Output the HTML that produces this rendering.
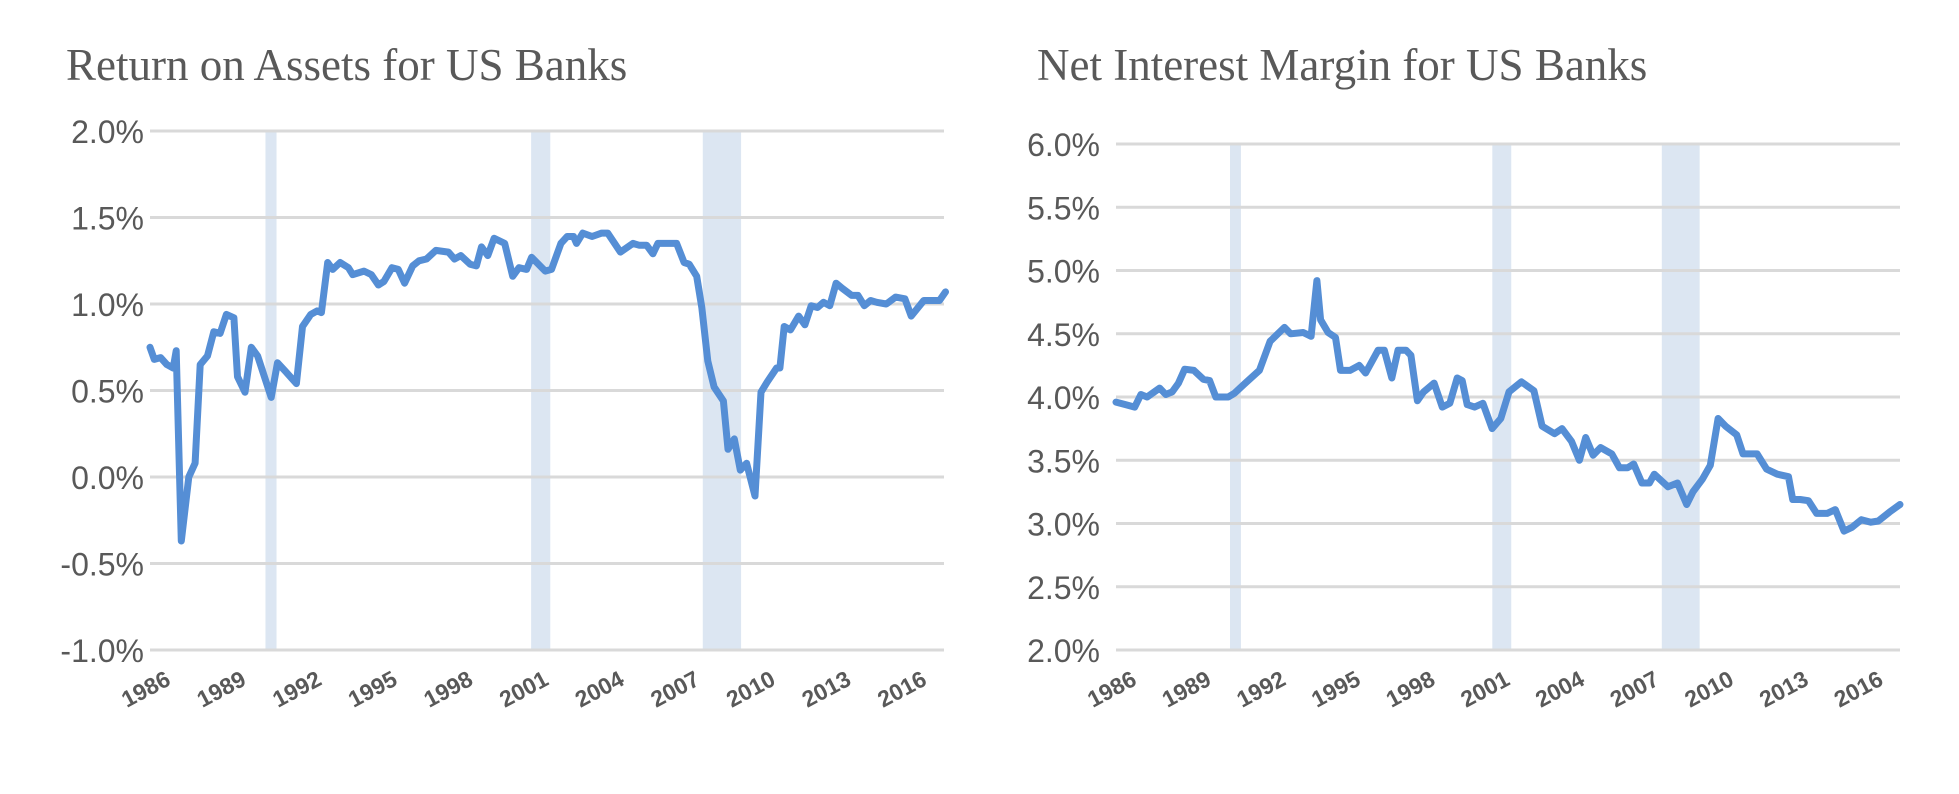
<!DOCTYPE html>
<html><head><meta charset="utf-8"><style>
html,body{margin:0;padding:0;background:#fff;}
svg{display:block;}
</style></head><body>
<svg id="chart" width="1959" height="794" xmlns="http://www.w3.org/2000/svg">
<rect x="0" y="0" width="1959" height="794" fill="#fff"/>
</svg>
<script>
const roaDates=[1986.00,1986.17,1986.42,1986.67,1986.92,1987.04,1987.24,1987.54,1987.79,1987.99,1988.28,1988.53,1988.78,1989.03,1989.33,1989.47,1989.77,1990.02,1990.27,1990.81,1991.06,1991.38,1991.81,1992.05,1992.38,1992.63,1992.80,1993.05,1993.25,1993.54,1993.87,1994.04,1994.49,1994.78,1995.06,1995.28,1995.60,1995.85,1996.10,1996.42,1996.67,1996.97,1997.34,1997.84,1998.08,1998.33,1998.70,1998.95,1999.15,1999.40,1999.65,2000.07,2000.39,2000.64,2000.94,2001.14,2001.68,2001.93,2002.30,2002.55,2002.80,2002.92,2003.17,2003.54,2003.92,2004.16,2004.66,2005.16,2005.40,2005.70,2005.95,2006.15,2006.89,2007.19,2007.39,2007.69,2007.89,2008.13,2008.38,2008.75,2008.93,2009.18,2009.42,2009.67,2010.00,2010.24,2010.49,2010.86,2010.99,2011.16,2011.41,2011.73,2011.98,2012.23,2012.48,2012.72,2012.97,2013.22,2013.47,2013.84,2014.09,2014.34,2014.59,2014.83,2015.21,2015.58,2015.95,2016.20,2016.70,2017.32,2017.56];
const roaValues=[0.75,0.68,0.69,0.65,0.63,0.73,-0.37,0.0,0.08,0.65,0.70,0.84,0.83,0.94,0.92,0.58,0.49,0.75,0.70,0.46,0.66,0.61,0.54,0.87,0.94,0.96,0.95,1.24,1.20,1.24,1.21,1.17,1.19,1.17,1.11,1.13,1.21,1.20,1.12,1.22,1.25,1.26,1.31,1.30,1.26,1.28,1.23,1.22,1.33,1.28,1.38,1.35,1.16,1.21,1.20,1.27,1.19,1.20,1.35,1.39,1.39,1.35,1.41,1.39,1.41,1.41,1.30,1.35,1.34,1.34,1.29,1.35,1.35,1.24,1.23,1.16,0.98,0.67,0.52,0.44,0.16,0.22,0.04,0.08,-0.11,0.49,0.55,0.63,0.63,0.87,0.85,0.93,0.88,0.99,0.98,1.01,0.99,1.12,1.09,1.05,1.05,0.99,1.02,1.01,1.00,1.04,1.03,0.93,1.02,1.02,1.07];
const nimDates=[1986.00,1986.38,1986.75,1987.00,1987.25,1987.75,1988.00,1988.26,1988.51,1988.76,1989.13,1989.51,1989.76,1990.01,1990.51,1990.76,1991.14,1991.76,1992.19,1992.77,1993.02,1993.52,1993.84,1994.07,1994.22,1994.52,1994.82,1995.02,1995.40,1995.77,1996.03,1996.53,1996.78,1997.08,1997.33,1997.65,1997.85,1998.11,1998.36,1998.78,1999.11,1999.41,1999.71,1999.91,2000.11,2000.41,2000.74,2001.11,2001.46,2001.79,2002.29,2002.79,2003.12,2003.62,2003.92,2004.30,2004.62,2004.87,2005.17,2005.47,2005.92,2006.23,2006.55,2006.80,2007.13,2007.43,2007.63,2008.18,2008.56,2008.93,2009.18,2009.56,2009.88,2010.19,2010.49,2010.94,2011.19,2011.44,2011.76,2012.14,2012.57,2013.02,2013.19,2013.49,2013.82,2014.15,2014.57,2014.90,2015.25,2015.57,2015.95,2016.33,2016.63,2017.08,2017.50];
const nimValues=[3.96,3.94,3.92,4.02,4.00,4.07,4.02,4.04,4.11,4.22,4.21,4.14,4.13,4.00,4.00,4.03,4.10,4.21,4.44,4.55,4.50,4.51,4.48,4.92,4.61,4.51,4.47,4.21,4.21,4.25,4.19,4.37,4.37,4.15,4.37,4.37,4.33,3.97,4.04,4.11,3.92,3.95,4.15,4.13,3.94,3.92,3.95,3.75,3.83,4.04,4.12,4.05,3.77,3.71,3.75,3.65,3.50,3.68,3.54,3.60,3.55,3.44,3.44,3.47,3.32,3.32,3.39,3.29,3.32,3.15,3.25,3.35,3.46,3.83,3.77,3.70,3.55,3.55,3.55,3.43,3.39,3.37,3.19,3.19,3.18,3.08,3.08,3.11,2.94,2.97,3.03,3.01,3.02,3.09,3.15];
const recessionStarts=[1990.58,2001.12,2007.93];
const recessionEnds=[1991.02,2001.88,2009.45];
const yearLabels=[1986,1989,1992,1995,1998,2001,2004,2007,2010,2013,2016];
const roaTicks=[-1.0,-0.5,0.0,0.5,1.0,1.5,2.0];
const nimTicks=[2.0,2.5,3.0,3.5,4.0,4.5,5.0,5.5,6.0];

const NS='http://www.w3.org/2000/svg';
const svg=document.getElementById('chart');
function mk(tag,attrs,parent){const e=document.createElementNS(NS,tag);for(const k in attrs)e.setAttribute(k,attrs[k]);(parent||svg).appendChild(e);return e;}

function drawChart(cfg){
  const g=mk('g',{});
  
  
  const x=v=>cfg.x0+(v-1986)/(2017.5-1986)*(cfg.x1-cfg.x0);
  const y=v=>cfg.yBot-(v-cfg.vMin)/(cfg.vMax-cfg.vMin)*(cfg.yBot-cfg.yTop);
  const t=mk('text',{x:cfg.titleX,y:80,'font-family':'"Liberation Serif",serif','font-size':'45','fill':'#595959'},g);
  t.textContent=cfg.title;
  
  
  for(let i=0;i<recessionStarts.length;i++){
    const r=mk('rect',{x:x(recessionStarts[i]),y:cfg.yTop,width:x(recessionEnds[i])-x(recessionStarts[i]),height:cfg.yBot-cfg.yTop,fill:'#dce6f2'},g);
    
    
  }
  cfg.ticks.forEach(v=>{
    const l=mk('line',{x1:cfg.x0,x2:cfg.x1,y1:y(v),y2:y(v),stroke:'#d9d9d9','stroke-width':'3'},g);
    
    
    const tx=mk('text',{x:cfg.labelX,y:y(v)+12,'text-anchor':'end','font-family':'"Liberation Sans",sans-serif','font-size':'32','fill':'#595959'},g);
    tx.textContent=v.toFixed(1)+'%';
    
    
  });
  yearLabels.forEach(yr=>{
    const px=x(yr)+22, py=cfg.yBot+34;
    const tx=mk('text',{x:px,y:py,'text-anchor':'end','font-family':'"Liberation Sans",sans-serif','font-size':'23','font-weight':'bold','fill':'#595959',transform:`rotate(-28 ${px} ${py})`},g);
    tx.textContent=yr;
    
    
  });
  const pts=cfg.dates.map((d,i)=>x(d).toFixed(1)+','+y(cfg.values[i]).toFixed(1)).join(' ');
  const pl=mk('polyline',{points:pts,fill:'none',stroke:'#558ed5','stroke-width':'7','stroke-linejoin':'round','stroke-linecap':'round'},g);
  
  
}
drawChart({name:'roa-chart',title:'Return on Assets for US Banks',titleX:66,x0:150,x1:944,yTop:131,yBot:650,vMin:-1,vMax:2,ticks:roaTicks,labelX:144,dates:roaDates,values:roaValues});
drawChart({name:'nim-chart',title:'Net Interest Margin for US Banks',titleX:1037,x0:1116,x1:1900,yTop:144,yBot:650,vMin:2,vMax:6,ticks:nimTicks,labelX:1100,dates:nimDates,values:nimValues});
</script>
</body></html>
